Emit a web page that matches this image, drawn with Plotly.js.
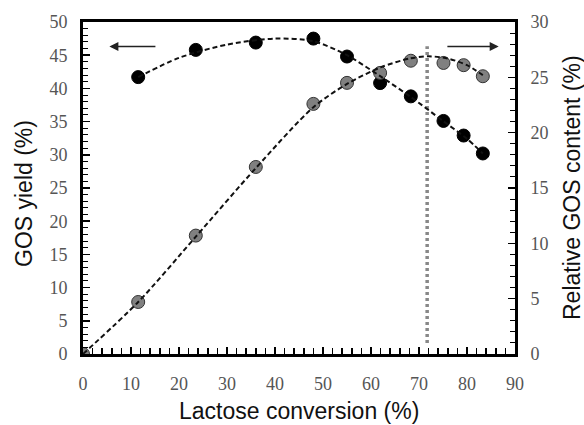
<!DOCTYPE html>
<html><head><meta charset="utf-8">
<script src="https://cdn.plot.ly/plotly-3.0.1.min.js"></script>
<style>html,body{margin:0;padding:0;background:#fff}#chart{width:584px;height:425px}</style>
</head><body><div id="chart"></div>
<script>
// Measured points
const conversionYield = [11.5, 23.5, 36, 48, 55, 61.9, 68.3, 75.1, 79.3, 83.3];
const gosYield = [41.7, 45.8, 46.9, 47.5, 44.8, 40.8, 38.8, 35.1, 32.9, 30.2];
const conversionContent = [0, 11.5, 23.5, 36, 48, 55, 61.9, 68.3, 75.1, 79.3, 83.3];
const relativeGosContent = [0, 4.7, 10.7, 16.9, 22.6, 24.5, 25.4, 26.5, 26.3, 26.1, 25.1];
// Dashed trend curves
const yieldFitX = [11.5, 20, 30, 40, 48, 55, 62, 68.3, 75, 80, 83.3];
const yieldFitY = [41.7, 44.6, 46.6, 47.5, 47.1, 45.0, 41.8, 38.7, 35.1, 32.4, 30.2];
const contentFitX = [0, 11.5, 23.5, 36, 48, 55, 62, 68, 72, 76, 80, 83.3];
const contentFitY = [0, 4.7, 10.6, 16.8, 22.3, 24.4, 25.9, 26.7, 26.9, 26.7, 26.1, 25.2];
// Vertical dotted marker line
const optimumX = [71.7, 71.7];
const optimumY = [1, 27.8];
// Axis ranges, ticks and titles
const xRange = [0, 90];
const yRange = [0, 50];
const y2Range = [0, 30];
const xTickLabels = ['0', '10', '20', '30', '40', '50', '60', '70', '80', '90'];
const xTitle = 'Lactose conversion (%)';
const yTitle = 'GOS yield (%)';
const y2Title = 'Relative GOS content (%)';

const serif = 'Liberation Serif, Times New Roman, serif';
const sans = 'Liberation Sans, Arial, sans-serif';
const tickFont = {family: serif, size: 18, color: '#555'};
const titleFont = {family: sans, size: 23, color: '#111'};
const pad = '\u2002';

// hide the main x labels (they are drawn by x2, which sits a little lower)
const hiddenX = {};
xTickLabels.forEach(t => { hiddenX[t] = ''; });

const traces = [
  {x: optimumX, y: optimumY, xaxis: 'x', yaxis: 'y2', mode: 'lines',
   line: {color: '#888', width: 3.5, dash: '3px,3px'}, hoverinfo: 'skip'},
  {x: conversionContent, y: relativeGosContent, xaxis: 'x', yaxis: 'y2', mode: 'markers',
   marker: {size: 13, color: '#808080', line: {color: '#333', width: 1}}},
  {x: conversionYield, y: gosYield, xaxis: 'x', yaxis: 'y', mode: 'markers',
   marker: {size: 13, color: '#000', line: {color: '#000', width: 1}}},
  {x: contentFitX, y: contentFitY, xaxis: 'x2', yaxis: 'y2', mode: 'lines',
   line: {color: '#111', width: 2, dash: '5px,3px', shape: 'spline', smoothing: 0.8}},
  {x: yieldFitX, y: yieldFitY, xaxis: 'x2', yaxis: 'y', mode: 'lines',
   line: {color: '#111', width: 2, dash: '5px,3px', shape: 'spline', smoothing: 0.8}}
];

const axisCommon = {
  showgrid: false, zeroline: false, showline: true, showticklabels: true,
  linecolor: '#000', linewidth: 3, ticks: 'inside', ticklen: 7, tickwidth: 1.5, tickcolor: '#000',
  tickmode: 'linear', tick0: 0, tickfont: tickFont
};

const layout = {
  width: 584, height: 425,
  margin: {l: 83, r: 69, t: 22, b: 71},
  showlegend: false,
  plot_bgcolor: 'rgba(0,0,0,0)', paper_bgcolor: '#fff',
  xaxis: Object.assign({}, axisCommon, {range: xRange, dtick: 10, mirror: true, labelalias: hiddenX,
    minor: {dtick: 2, ticks: 'inside', ticklen: 6, tickwidth: 1.5, tickcolor: '#000'}}),
  xaxis2: {range: xRange, dtick: 10, tick0: 0, tickmode: 'linear', overlaying: 'x', side: 'bottom', anchor: 'y',
    showgrid: false, zeroline: false, showline: false,
    ticks: 'outside', ticklen: 13, tickcolor: 'rgba(0,0,0,0)', tickfont: tickFont},
  yaxis: Object.assign({}, axisCommon, {range: yRange, dtick: 5, ticksuffix: pad,
    minor: {dtick: 1, ticks: 'inside', ticklen: 5, tickwidth: 1, tickcolor: '#000'}}),
  yaxis2: Object.assign({}, axisCommon, {range: y2Range, dtick: 5, overlaying: 'y', side: 'right', tickprefix: pad,
    minor: {dtick: 1, ticks: 'inside', ticklen: 5, tickwidth: 1, tickcolor: '#000'}}),
  annotations: [
    {x: 5.5, y: 46.3, ax: 15.4, ay: 46.3, xref: 'x', yref: 'y', axref: 'x', ayref: 'y',
     text: '', showarrow: true, arrowhead: 2, arrowsize: 1.2, arrowwidth: 1.5, arrowcolor: '#222'},
    {x: 86.6, y: 46.3, ax: 75.6, ay: 46.3, xref: 'x', yref: 'y', axref: 'x', ayref: 'y',
     text: '', showarrow: true, arrowhead: 2, arrowsize: 1.2, arrowwidth: 1.5, arrowcolor: '#222'},
    {text: xTitle, font: titleFont, showarrow: false, xref: 'paper', yref: 'paper',
     x: 0.5, y: 0, xanchor: 'center', yanchor: 'middle', yshift: -57},
    {text: yTitle, font: titleFont, showarrow: false, xref: 'paper', yref: 'paper', textangle: -90,
     x: 0, y: 0.5, xanchor: 'center', yanchor: 'middle', xshift: -59, yshift: -6},
    {text: y2Title, font: titleFont, showarrow: false, xref: 'paper', yref: 'paper', textangle: -90,
     x: 1, y: 0.5, xanchor: 'center', yanchor: 'middle', xshift: 57}
  ]
};

Plotly.newPlot('chart', traces, layout, {displayModeBar: false, staticPlot: true});
</script></body></html>
